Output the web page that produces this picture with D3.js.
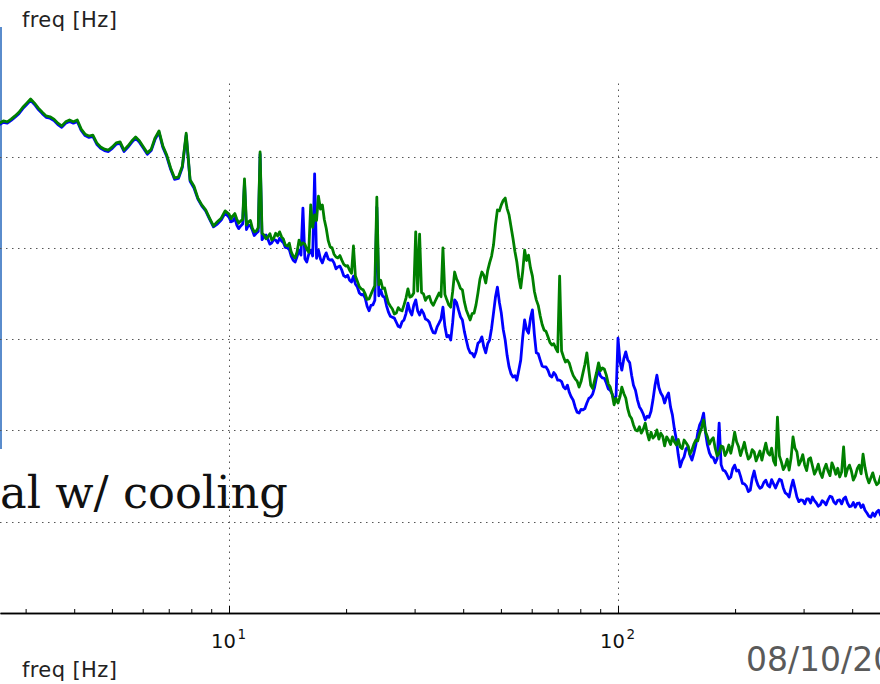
<!DOCTYPE html>
<html>
<head>
<meta charset="utf-8">
<script src="https://cdn.jsdelivr.net/npm/d3@7"></script>
<style>
  html, body { margin: 0; padding: 0; background: #fff; overflow: hidden; }
  svg { display: block; }
</style>
</head>
<body>
<svg id="chart" width="880" height="684"></svg>
<script>
// Frequency bins (Hz), logarithmically spaced at 0.01 decade
const freqHz = [
  2.570, 2.630, 2.692, 2.754, 2.818, 2.884, 2.951, 3.020, 3.090, 3.162,
  3.236, 3.311, 3.388, 3.467, 3.548, 3.631, 3.715, 3.802, 3.890, 3.981,
  4.074, 4.169, 4.266, 4.365, 4.467, 4.571, 4.677, 4.786, 4.898, 5.012,
  5.129, 5.248, 5.370, 5.495, 5.623, 5.754, 5.888, 6.026, 6.166, 6.310,
  6.457, 6.607, 6.761, 6.918, 7.079, 7.244, 7.413, 7.586, 7.762, 7.943,
  8.128, 8.318, 8.511, 8.710, 8.913, 9.120, 9.333, 9.550, 9.772,
  10.00, 10.23, 10.47, 10.72, 10.96, 11.22, 11.48, 11.75, 12.02, 12.30,
  12.59, 12.88, 13.18, 13.49, 13.80, 14.13, 14.45, 14.79, 15.14, 15.49,
  15.85, 16.22, 16.60, 16.98, 17.38, 17.78, 18.20, 18.62, 19.05, 19.50,
  19.95, 20.42, 20.89, 21.38, 21.88, 22.39, 22.91, 23.44, 23.99, 24.55,
  25.12, 25.70, 26.30, 26.92, 27.54, 28.18, 28.84, 29.51, 30.20, 30.90,
  31.62, 32.36, 33.11, 33.88, 34.67, 35.48, 36.31, 37.15, 38.02, 38.90,
  39.81, 40.74, 41.69, 42.66, 43.65, 44.67, 45.71, 46.77, 47.86, 48.98,
  50.12, 51.29, 52.48, 53.70, 54.95, 56.23, 57.54, 58.88, 60.26, 61.66,
  63.10, 64.57, 66.07, 67.61, 69.18, 70.79, 72.44, 74.13, 75.86, 77.62,
  79.43, 81.28, 83.18, 85.11, 87.10, 89.13, 91.20, 93.33, 95.50, 97.72,
  100.0, 102.3, 104.7, 107.2, 109.6, 112.2, 114.8, 117.5, 120.2, 123.0,
  125.9, 128.8, 131.8, 134.9, 138.0, 141.3, 144.5, 147.9, 151.4, 154.9,
  158.5, 162.2, 166.0, 169.8, 173.8, 177.8, 182.0, 186.2, 190.5, 195.0,
  199.5, 204.2, 208.9, 213.8, 218.8, 223.9, 229.1, 234.4, 239.9, 245.5,
  251.2, 257.0, 263.0, 269.2, 275.4, 281.8, 288.4, 295.1, 302.0, 309.0,
  316.2, 323.6, 331.1, 338.8, 346.7, 354.8, 363.1, 371.5, 380.2, 389.0,
  398.1, 407.4, 416.9, 426.6, 436.5, 446.7, 457.1, 467.7, 478.6
];

// Amplitude spectrum, blue trace (dB)
const spectrumBlue = [
  -13.0, -12.5, -12.7, -12.1, -11.4, -10.6, -9.5, -8.6, -7.7, -8.6,
  -9.7, -10.6, -11.4, -11.6, -12.1, -13.0, -13.6, -12.7, -12.3, -12.7,
  -12.3, -14.3, -15.4, -15.8, -15.6, -17.3, -18.2, -18.7, -18.9, -18.2,
  -17.3, -17.1, -18.9, -18.0, -16.9, -16.0, -16.9, -18.2, -19.5, -18.7,
  -16.2, -14.7, -18.0, -20.0, -22.8, -25.0, -24.8, -22.4, -15.3, -25.4,
  -26.9, -29.3, -30.8, -31.9, -33.7, -35.4, -34.8, -33.9, -32.4,
  -33.3, -34.1, -35.0, -35.2, -25.6, -35.0, -36.1, -36.8, -19.5, -37.6,
  -38.1, -38.9, -38.3, -37.9, -38.9, -40.0, -41.8, -43.1, -40.5, -31.3,
  -43.1, -40.5, -23.8, -40.5, -43.3, -41.1, -42.7, -43.3, -44.2, -44.9,
  -46.4, -47.1, -46.2, -48.6, -50.3, -51.0, -53.8, -52.5, -31.1, -49.2,
  -50.8, -54.1, -55.2, -56.3, -57.4, -55.8, -52.1, -54.7, -51.4, -54.7,
  -54.3, -55.8, -57.6, -58.7, -56.5, -53.0, -59.5, -60.2, -51.4, -53.6,
  -55.8, -60.2, -63.0, -63.9, -60.9, -59.5, -63.0, -60.2, -54.3, -48.6,
  -54.3, -60.2, -66.1, -68.3, -69.0, -64.6, -55.8, -58.7, -53.6, -63.0,
  -64.6, -66.1, -66.8, -68.3, -67.9, -69.0, -70.5, -70.1, -72.7, -74.9,
  -76.2, -75.5, -74.0, -72.7, -70.5, -66.8, -68.5, -69.6, -71.2, -73.3,
  -59.8, -66.8, -62.8, -65.2, -70.1, -73.3, -75.5, -77.7, -77.1, -73.3,
  -67.9, -71.8, -74.0, -71.8, -76.6, -82.1, -88.0, -85.8, -83.6, -86.5,
  -83.2, -78.8, -76.2, -83.2, -85.8, -87.1, -78.4, -88.7, -89.6, -90.2,
  -87.6, -88.7, -91.6, -92.2, -93.1, -88.9, -92.0, -92.4, -90.9, -92.4,
  -91.7, -91.6, -90.9, -93.7, -94.6, -90.9, -94.6, -95.2, -96.1, -95.0,
  -94.6, -95.9, -96.3, -95.7, -95.2, -94.6, -96.1, -95.2, -95.0, -95.9,
  -96.6, -96.8, -95.9, -96.3, -98.1, -99.0, -98.8, -97.5, -98.0
];

// Amplitude spectrum, green trace (dB)
const spectrumGreen = [
  -12.7, -12.2, -12.4, -11.8, -11.1, -10.3, -9.2, -8.3, -7.4, -8.3,
  -9.4, -10.3, -11.1, -11.3, -11.8, -12.7, -13.3, -12.4, -12.0, -12.4,
  -12.0, -14.0, -15.1, -15.5, -15.3, -17.0, -17.9, -18.4, -18.6, -17.9,
  -17.0, -16.8, -18.6, -17.7, -16.6, -15.7, -16.6, -17.9, -19.2, -18.4,
  -15.9, -14.4, -17.7, -19.7, -22.5, -24.7, -24.5, -22.1, -14.9, -25.1,
  -26.5, -29.1, -30.6, -31.7, -33.5, -35.2, -34.3, -33.5, -31.9,
  -32.6, -33.0, -33.7, -34.1, -24.9, -34.3, -35.7, -36.3, -19.0, -37.2,
  -37.6, -38.3, -36.8, -36.5, -38.1, -39.6, -40.9, -42.2, -38.3, -38.9,
  -40.3, -30.6, -32.8, -28.7, -30.6, -35.7, -39.8, -41.4, -42.2, -42.7,
  -44.0, -44.9, -39.6, -47.3, -49.0, -50.1, -51.2, -49.2, -28.9, -47.1,
  -48.8, -52.1, -53.4, -54.3, -53.6, -52.5, -49.0, -50.6, -36.5, -37.0,
  -50.1, -50.8, -51.9, -51.7, -49.9, -40.0, -51.4, -53.0, -45.3, -47.7,
  -49.2, -53.6, -55.8, -54.3, -49.9, -45.3, -47.7, -43.3, -39.4, -31.7,
  -30.6, -29.1, -32.8, -37.9, -43.1, -48.8, -40.5, -41.6, -46.2, -51.4,
  -54.9, -58.0, -59.5, -61.3, -62.0, -46.2, -63.9, -64.6, -66.8, -68.7,
  -70.5, -67.4, -63.0, -70.1, -69.0, -65.2, -66.3, -67.9, -70.5, -74.4,
  -74.0, -70.5, -72.9, -76.8, -78.8, -80.1, -80.6, -78.4, -82.1, -81.7,
  -79.9, -80.6, -83.4, -82.1, -81.4, -83.2, -83.6, -82.1, -83.4, -84.3,
  -82.1, -80.6, -77.7, -81.4, -82.1, -83.9, -85.0, -83.6, -84.7, -85.0,
  -80.4, -83.6, -84.1, -84.7, -85.8, -84.7, -85.6, -86.5, -82.8, -85.4,
  -86.7, -77.1, -86.9, -87.8, -88.7, -81.4, -84.7, -86.7, -87.6, -86.3,
  -87.8, -88.7, -89.3, -88.5, -88.9, -87.1, -89.6, -90.2, -83.6, -88.5,
  -88.9, -90.0, -87.6, -85.2, -90.2, -90.4, -90.9, -91.5, -91.3
];

// Extra bins above 10 Hz, halfway between the ones above (Hz)
const freqMid = [
  10.12, 10.35, 10.59, 10.84, 11.09, 11.35, 11.61, 11.89, 12.16, 12.45,
  12.74, 13.03, 13.34, 13.65, 13.96, 14.29, 14.62, 14.96, 15.31, 15.67,
  16.03, 16.41, 16.79, 17.18, 17.58, 17.99, 18.41, 18.84, 19.28, 19.72,
  20.18, 20.65, 21.13, 21.63, 22.13, 22.65, 23.17, 23.71, 24.27, 24.83,
  25.41, 26.00, 26.61, 27.23, 27.86, 28.51, 29.17, 29.85, 30.55, 31.26,
  31.99, 32.73, 33.50, 34.28, 35.08, 35.89, 36.73, 37.58, 38.46, 39.36,
  40.27, 41.21, 42.17, 43.15, 44.16, 45.19, 46.24, 47.32, 48.42, 49.55,
  50.70, 51.88, 53.09, 54.33, 55.59, 56.89, 58.21, 59.57, 60.95, 62.37,
  63.83, 65.31, 66.83, 68.39, 69.98, 71.61, 73.28, 74.99, 76.74, 78.52,
  80.35, 82.22, 84.14, 86.10, 88.10, 90.16, 92.26, 94.41, 96.61, 98.86,
  101.2, 103.5, 105.9, 108.4, 110.9, 113.5, 116.1, 118.9, 121.6, 124.5,
  127.4, 130.3, 133.4, 136.5, 139.6, 142.9, 146.2, 149.6, 153.1, 156.7,
  160.3, 164.1, 167.9, 171.8, 175.8, 179.9, 184.1, 188.4, 192.8, 197.2,
  201.8, 206.5, 211.3, 216.3, 221.3, 226.5, 231.7, 237.1, 242.7, 248.3,
  254.1, 260.0, 266.1, 272.3, 278.6, 285.1, 291.7, 298.5, 305.5, 312.6,
  319.9, 327.3, 335.0, 342.8, 350.8, 358.9, 367.3, 375.8, 384.6, 393.6,
  402.7, 412.1, 421.7, 431.5, 441.6, 451.9, 462.4, 473.2
];

const spectrumBlueMid = [
  -34.3, -33.4, -35.8, -34.8, -36.0, -35.2, -37.3, -36.4, -38.2, -37.2,
  -39.2, -38.2, -38.9, -38.5, -39.9, -40.4, -42.7, -41.9, -41.6, -42.4,
  -41.4, -41.8, -42.3, -42.4, -42.0, -42.4, -42.6, -44.6, -44.0, -46.1,
  -46.0, -47.5, -47.9, -49.9, -50.2, -52.8, -52.6, -51.5, -50.5, -50.6,
  -52.7, -55.0, -55.4, -57.2, -56.2, -54.4, -53.8, -52.6, -53.8, -53.6,
  -55.6, -56.3, -58.6, -57.3, -55.6, -57.2, -59.2, -56.4, -52.0, -55.1,
  -58.3, -62.0, -63.1, -62.8, -60.5, -61.7, -61.0, -57.6, -50.8, -51.9,
  -57.9, -63.6, -67.6, -68.0, -66.8, -59.6, -57.9, -55.4, -58.9, -63.2,
  -65.9, -66.1, -68.0, -67.3, -69.0, -69.3, -70.9, -71.7, -73.4, -76.0,
  -75.4, -75.2, -73.0, -72.0, -68.3, -68.1, -68.6, -70.9, -72.0, -72.5,
  -65.0, -64.3, -64.5, -67.9, -71.2, -74.8, -76.4, -76.9, -75.8, -70.1,
  -70.6, -72.5, -72.6, -74.9, -79.6, -85.4, -86.6, -84.0, -85.4, -85.0,
  -80.6, -77.9, -80.5, -84.9, -86.0, -86.2, -87.5, -88.9, -90.6, -88.4,
  -88.9, -90.0, -91.7, -93.4, -90.5, -90.8, -92.7, -91.4, -92.0, -90.8,
  -92.6, -90.7, -92.6, -94.0, -92.5, -92.7, -95.6, -95.3, -95.0, -95.9,
  -95.4, -96.6, -95.4, -96.3, -94.4, -95.7, -95.3, -96.1, -94.6, -96.7,
  -95.8, -96.0, -96.9, -97.5, -98.8, -98.1, -97.9, -98.6
];

const spectrumGreenMid = [
  -33.6, -32.5, -34.6, -33.8, -35.0, -34.0, -36.5, -35.6, -36.8, -38.0,
  -36.9, -37.9, -37.4, -37.6, -39.4, -39.0, -41.8, -40.9, -39.4, -39.2,
  -41.0, -35.5, -34.0, -31.5, -33.8, -38.4, -40.0, -42.0, -41.7, -43.6,
  -43.9, -45.6, -46.2, -48.5, -49.2, -51.3, -50.2, -48.3, -48.1, -48.9,
  -50.6, -52.8, -54.5, -53.1, -53.8, -51.0, -50.8, -49.9, -49.5, -49.8,
  -51.5, -50.6, -52.6, -50.8, -50.7, -50.2, -52.5, -49.6, -46.8, -48.9,
  -51.8, -54.7, -54.4, -52.5, -46.9, -46.0, -45.0, -41.8, -35.0, -31.9,
  -29.6, -31.4, -35.4, -40.8, -46.5, -45.2, -42.8, -44.4, -49.5, -52.6,
  -56.8, -58.3, -60.7, -61.0, -62.8, -62.6, -65.0, -65.3, -68.0, -69.2,
  -69.3, -65.5, -66.8, -70.8, -67.3, -66.9, -66.6, -69.8, -72.1, -73.0,
  -72.6, -71.9, -75.2, -77.4, -79.9, -79.2, -79.8, -80.6, -80.4, -81.2,
  -81.9, -81.3, -81.4, -83.1, -82.5, -82.0, -84.0, -82.7, -85.2, -83.0,
  -82.3, -79.4, -80.3, -83.0, -81.6, -85.6, -83.4, -85.5, -83.2, -83.1,
  -82.5, -85.5, -82.6, -86.3, -84.2, -86.7, -84.5, -84.6, -84.9, -83.9,
  -87.6, -85.6, -88.6, -86.3, -86.0, -83.9, -87.6, -85.3, -88.8, -86.0,
  -89.6, -87.4, -90.3, -87.4, -89.9, -88.2, -88.3, -89.1, -90.0, -87.6,
  -90.9, -88.4, -89.5, -88.1, -91.5, -89.3, -91.9, -90.0
];

// Axis furniture
const gridDb = [-100, -80, -60, -40, -20];
const majorFreq = [10, 100];
const majorExp = ["1", "2"];
const minorFreq = [3, 4, 5, 6, 7, 8, 9, 20, 30, 40, 50, 60, 70, 80, 90, 200, 300, 400];
const axisTitle = "freq [Hz]";
const captionText = "al w/ cooling";
const dateText = "08/10/20";

const W = 880, H = 684;
const axisY = 613, plotTop = 83.5;

const svg = d3.select("#chart");

const x = d3.scaleLog().domain([2.578, 471.6]).range([0, W]);
const y = d3.scaleLinear().domain([-120, -4]).range([axisY, plotTop]);

// slide accent bar on the left edge
svg.append("rect")
  .attr("x", 0).attr("y", 27).attr("width", 2).attr("height", 422)
  .attr("fill", "#5a8ccc");

// dotted grid
const grid = svg.append("g")
  .attr("stroke", "#555").attr("stroke-width", 1)
  .attr("stroke-dasharray", "1.5 4.5").attr("fill", "none");
grid.selectAll("line.h").data(gridDb).join("line")
  .attr("class", "h")
  .attr("x1", 0).attr("x2", W)
  .attr("y1", d => Math.round(y(d)) + 0.5).attr("y2", d => Math.round(y(d)) + 0.5);
grid.selectAll("line.v").data(majorFreq).join("line")
  .attr("class", "v")
  .attr("x1", d => Math.round(x(d)) + 0.5).attr("x2", d => Math.round(x(d)) + 0.5)
  .attr("y1", plotTop).attr("y2", axisY);

// merge the coarse and half-step bins into one frequency-ordered series
const series = (vals, mids) =>
  freqHz.map((f, i) => [f, vals[i]])
    .concat(freqMid.map((f, i) => [f, mids[i]]))
    .sort((a, b) => a[0] - b[0]);

const line = d3.line().x(d => x(d[0])).y(d => y(d[1]));

svg.append("path")
  .attr("d", line(series(spectrumBlue, spectrumBlueMid)))
  .attr("fill", "none").attr("stroke", "#0000ff")
  .attr("stroke-width", 2.8).attr("stroke-linejoin", "round");
svg.append("path")
  .attr("d", line(series(spectrumGreen, spectrumGreenMid)))
  .attr("fill", "none").attr("stroke", "#008000")
  .attr("stroke-width", 2.8).attr("stroke-linejoin", "round");

// x axis (ticks point inward)
const axMajor = svg.append("g")
  .attr("transform", `translate(0,${axisY})`)
  .call(d3.axisBottom(x).tickValues(majorFreq).tickSize(-7).tickSizeOuter(0).tickFormat(""));
const axMinor = svg.append("g")
  .attr("transform", `translate(0,${axisY})`)
  .call(d3.axisBottom(x).tickValues(minorFreq).tickSize(-4).tickSizeOuter(0).tickFormat(""));
[axMajor, axMinor].forEach(g => {
  g.select(".domain").attr("stroke", "#000").attr("stroke-width", 1.5);
  g.selectAll(".tick line").attr("stroke", "#000").attr("stroke-width", 1);
});

// decade labels 10^n
const labels = svg.append("g")
  .attr("font-family", "DejaVu Sans, sans-serif").attr("fill", "#111");
majorFreq.forEach((f, i) => {
  const cx = x(f);
  labels.append("text")
    .attr("x", cx - 18).attr("y", 648)
    .attr("font-size", 19.5).text("10");
  labels.append("text")
    .attr("x", cx + 8.5).attr("y", 638.5)
    .attr("font-size", 13.5).text(majorExp[i]);
});

// axis titles
const titleAt = (yy) => svg.append("text")
  .attr("x", 22).attr("y", yy)
  .attr("font-family", "DejaVu Sans, sans-serif").attr("font-size", 21)
  .attr("letter-spacing", 0.4)
  .attr("fill", "#222")
  .text(axisTitle);
titleAt(27);
titleAt(677);

// slide caption and date
svg.append("text")
  .attr("x", 0).attr("y", 508)
  .attr("font-family", "DejaVu Serif, serif").attr("font-size", 44)
  .attr("fill", "#111").attr("textLength", 288).attr("lengthAdjust", "spacingAndGlyphs")
  .text(captionText);
svg.append("text")
  .attr("x", 746).attr("y", 671)
  .attr("font-family", "DejaVu Sans, sans-serif").attr("font-size", 33)
  .attr("fill", "#5a5a5a")
  .text(dateText);
</script>
</body>
</html>
